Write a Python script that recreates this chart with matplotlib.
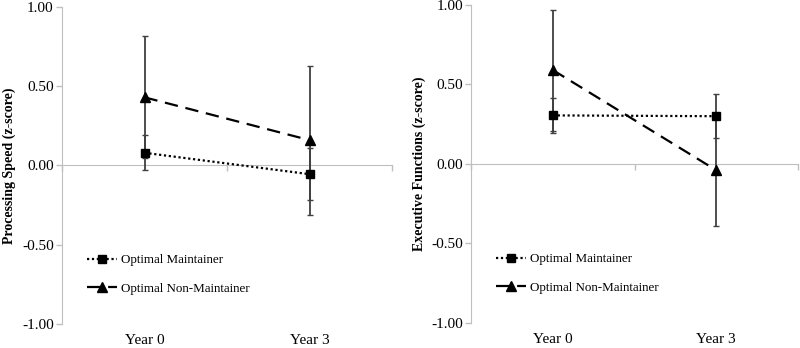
import matplotlib.pyplot as plt
from matplotlib.lines import Line2D

plt.rcParams['font.family'] = ['Liberation Serif', 'DejaVu Serif']

years = ['Year 0', 'Year 3']

# Processing speed (left panel)
ps_maint = [0.08, -0.055]
ps_maint_err = [0.11, 0.165]
ps_nonmaint = [0.43, 0.16]
ps_nonmaint_err = [0.385, 0.47]

# Executive functions (right panel)
ef_maint = [0.305, 0.30]
ef_maint_err = [0.11, 0.14]
ef_nonmaint = [0.59, -0.04]
ef_nonmaint_err = [0.38, 0.35]

grey = '#bfbfbf'
err_col = '#404040'

fig = plt.figure(figsize=(8, 3.48), dpi=100)
ax1 = fig.add_axes([0.0775, 0.069, 0.4125, 0.911])
ax2 = fig.add_axes([0.589, 0.072, 0.4085, 0.914])


def draw(ax, m, me, n, ne, ylabel, legx):
    x = range(len(years))
    ax.errorbar(x, n, yerr=ne, color='black', ls=(0, (6, 3.5)), lw=1.6,
                marker='^', ms=6.5, ecolor=err_col, elinewidth=1.3,
                capsize=2.5, capthick=1, zorder=3)
    ax.errorbar(x, m, yerr=me, color='black', ls=(0, (1, 1.2)), lw=1.6,
                marker='s', ms=6, ecolor=err_col, elinewidth=1.3,
                capsize=2.5, capthick=1, zorder=4)
    ax.set_xlim(-0.5, 1.5)
    ax.set_ylim(-1, 1)
    ax.set_yticks([-1, -0.5, 0, 0.5, 1])
    ax.set_yticklabels(['-1.00', '-0.50', '0.00', '0.50', '1.00'], fontsize=11)
    ax.tick_params(axis='y', colors=grey, length=4, width=1, labelcolor='black', pad=2)
    for s in ['top', 'right']:
        ax.spines[s].set_visible(False)
    ax.spines['left'].set_color(grey)
    ax.spines['bottom'].set_position(('data', 0))
    ax.spines['bottom'].set_color(grey)
    ax.set_xticks([-0.5, 0.5, 1.5])
    ax.set_xticklabels([])
    ax.tick_params(axis='x', colors=grey, length=4, width=1, direction='out')
    sec = ax.secondary_xaxis('bottom')
    sec.set_xticks(list(x))
    sec.set_xticklabels(years, fontsize=11)
    sec.tick_params(length=0, pad=7)
    sec.spines['bottom'].set_visible(False)
    ax.set_ylabel(ylabel, fontsize=10, fontweight='bold', labelpad=4)

    handles = [
        Line2D([], [], color='black', ls=(0, (1, 1.2)), lw=1.6, marker='s', ms=6),
        Line2D([], [], color='black', ls=(0, (6, 3.5)), lw=1.6, marker='^', ms=6.5),
    ]
    ax.legend(handles, ['Optimal Maintainer', 'Optimal Non-Maintainer'],
              loc='lower left', bbox_to_anchor=(legx, 0.055), frameon=False,
              fontsize=9.4, handlelength=2.3, handletextpad=0.3, labelspacing=1.25)


draw(ax1, ps_maint, ps_maint_err, ps_nonmaint, ps_nonmaint_err,
     'Processing Speed (z-score)', 0.04)
draw(ax2, ef_maint, ef_maint_err, ef_nonmaint, ef_nonmaint_err,
     'Executive Functions (z-score)', 0.04)

fig.savefig('out.png', dpi=100)
